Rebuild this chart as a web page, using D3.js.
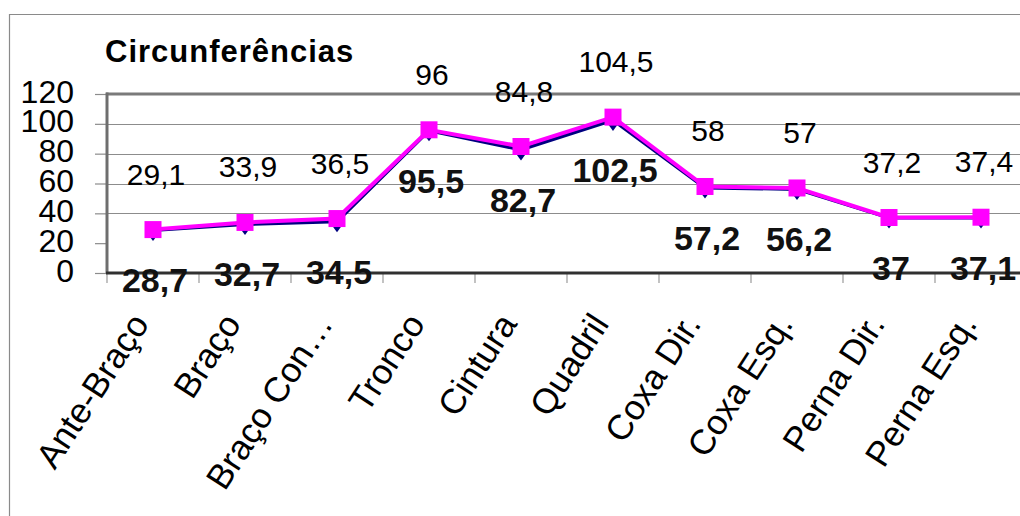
<!DOCTYPE html>
<html><head><meta charset="utf-8">
<script src="https://cdn.jsdelivr.net/npm/d3@7"></script>
<style>body{margin:0;background:#fff}svg{display:block}text{font-family:"Liberation Sans",Arial,sans-serif}</style>
</head><body><svg id="c" width="1020" height="516"></svg>
<script>
const title = "Circunferências";
const categories = ["Ante-Braço","Braço","Braço Con…","Tronco","Cintura","Quadril","Coxa Dir.","Coxa Esq.","Perna Dir.","Perna Esq."];
const seriesBlue = [28.7,32.7,34.5,95.5,82.7,102.5,57.2,56.2,37,37.1];
const seriesMagenta = [29.1,33.9,36.5,96,84.8,104.5,58,57,37.2,37.4];
const yTicks = [0,20,40,60,80,100,120];
const gridValues = [40,60,80,100];

const fmt = v => String(v).replace(".", ",");
const svg = d3.select("#c");
const x = d3.scaleBand().domain(categories).range([107, 1027]).padding(0);
const y = d3.scaleLinear().domain([0, 120]).range([273, 94]);
const cx = c => x(c) + x.bandwidth() / 2;

// outer border
svg.append("line").attr("x1",9).attr("x2",1020).attr("y1",14.5).attr("y2",14.5).attr("stroke","#8a8a8a").attr("stroke-width",1.2);
svg.append("line").attr("x1",9.5).attr("x2",9.5).attr("y1",14).attr("y2",516).attr("stroke","#8a8a8a").attr("stroke-width",1.2);

// title
svg.append("text").attr("x",105).attr("y",62).attr("font-size",31).attr("font-weight","bold")
  .attr("letter-spacing","1px").attr("fill","#000").text(title);

// gridlines
svg.append("g").selectAll("line").data(gridValues).join("line")
  .attr("x1",107).attr("x2",1027).attr("y1",d=>Math.round(y(d))+0.5).attr("y2",d=>Math.round(y(d))+0.5)
  .attr("stroke","#8c8c8c").attr("stroke-width",1.2);

// y axis with ticks
const yAxis = d3.axisLeft(y).tickValues(yTicks).tickSize(12).tickPadding(21).tickFormat(d3.format("d"));
const gy = svg.append("g").attr("transform","translate(107,0)").call(yAxis);
gy.select(".domain").remove();
gy.selectAll(".tick line").attr("stroke","#8c8c8c").attr("stroke-width",1.2);
gy.selectAll(".tick text").attr("font-size",32).attr("fill","#000").attr("dy","0.25em")
  .style("font-family","'Liberation Sans',Arial,sans-serif");

// plot frame: top & left thick grey
svg.append("line").attr("x1",106).attr("x2",1027).attr("y1",y(120)).attr("y2",y(120)).attr("stroke","#7a7a7a").attr("stroke-width",3);
svg.append("line").attr("x1",107).attr("x2",107).attr("y1",y(120)-1.5).attr("y2",y(0)).attr("stroke","#6e6e6e").attr("stroke-width",3);

// x axis ticks at band boundaries
svg.append("g").selectAll("line").data(categories).join("line")
  .attr("x1",d=>x(d)).attr("x2",d=>x(d)).attr("y1",y(0)).attr("y2",y(0)+10)
  .attr("stroke","#9a9a9a").attr("stroke-width",1.2);

// x labels
const xAxis = d3.axisBottom(x).tickSize(0).tickPadding(0);
const gx = svg.append("g").call(xAxis);
gx.select(".domain").remove();
gx.selectAll(".tick").attr("transform", d => `translate(${cx(d)-3},324)`);
gx.selectAll(".tick text").attr("font-size",35).attr("fill","#000").attr("text-anchor","end")
  .attr("x",0).attr("y",0).attr("dy",0).attr("transform","rotate(-57)")
  .style("font-family","'Liberation Sans',Arial,sans-serif");

// lines
const line = d3.line().x((d,i)=>cx(categories[i])).y(d=>y(d));
svg.append("path").datum(seriesBlue).attr("d",line).attr("fill","none").attr("stroke","#000080").attr("stroke-width",3.5);
svg.append("g").selectAll("path").data(seriesBlue).join("path")
  .attr("d", d3.symbol(d3.symbolDiamond, 110))
  .attr("transform",(d,i)=>`translate(${cx(categories[i])},${y(d)+2}) scale(1.15,0.9)`)
  .attr("fill","#000080");
svg.append("path").datum(seriesMagenta).attr("d",line).attr("fill","none").attr("stroke","#ff00ff").attr("stroke-width",4);
svg.append("g").selectAll("rect").data(seriesMagenta).join("rect")
  .attr("x",(d,i)=>cx(categories[i])-8.5).attr("y",d=>y(d)-8.5).attr("width",17).attr("height",17)
  .attr("fill","#ff00ff");

// x axis line (dark)
svg.append("line").attr("x1",106).attr("x2",1027).attr("y1",y(0)).attr("y2",y(0)).attr("stroke","#303030").attr("stroke-width",3);

// labels magenta (above, normal)
svg.append("g").selectAll("text").data(seriesMagenta).join("text")
  .attr("x",(d,i)=>cx(categories[i])+3).attr("y",d=>y(d)-45)
  .attr("text-anchor","middle").attr("font-size",30).attr("fill","#000").text(fmt);
// labels blue (below, bold)
svg.append("g").selectAll("text").data(seriesBlue).join("text")
  .attr("x",(d,i)=>cx(categories[i])+2).attr("y",d=>y(d)+62)
  .attr("text-anchor","middle").attr("font-size",34).attr("font-weight","bold").attr("fill","#111").text(fmt);
</script></body></html>
